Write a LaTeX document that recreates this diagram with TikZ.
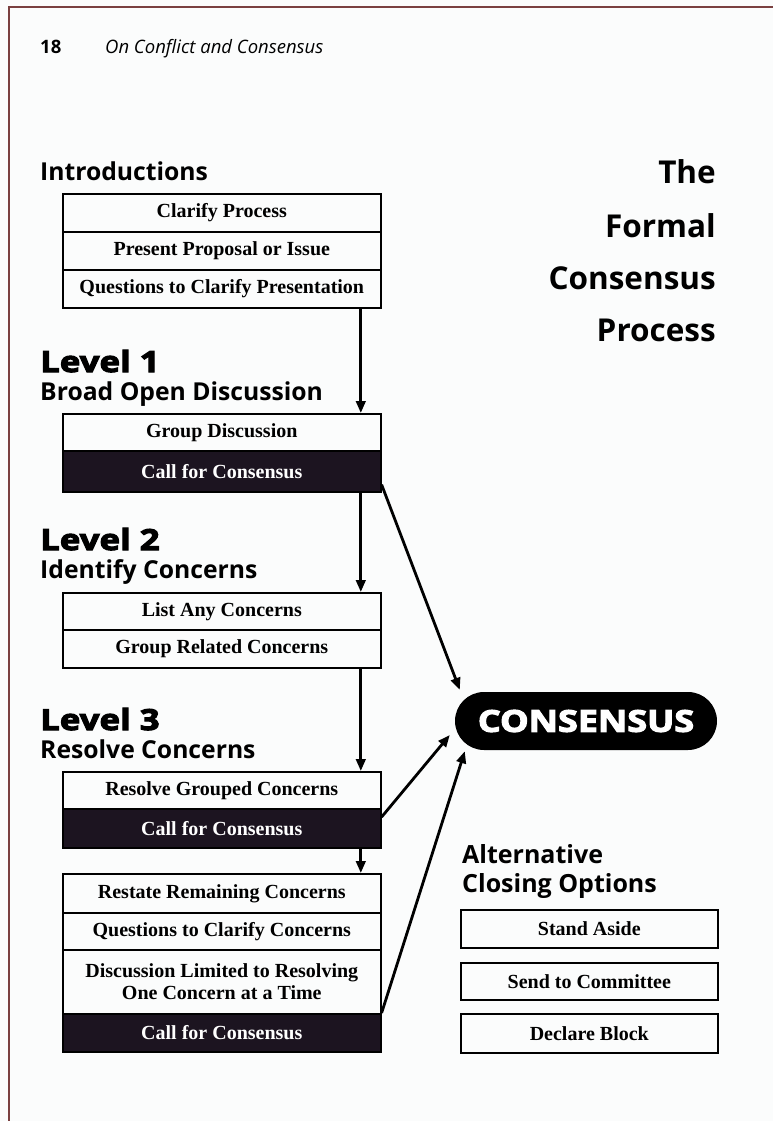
\documentclass[tikz,border=0pt]{standalone}
\usepackage{fontspec}
\setmainfont{Liberation Serif}
\newfontfamily\sansf{Open Sans}
\newfontfamily\heavyf{Open Sans}[FakeBold=3.8,FakeStretch=1.2]
\usetikzlibrary{arrows.meta,calc}
\definecolor{darkcell}{HTML}{1C1420}
\definecolor{bordercol}{HTML}{7A4040}
\definecolor{pagebg}{HTML}{FBFCFC}
\begin{document}
\begin{tikzpicture}[x=1pt,y=-1pt,
  cell/.style={draw=black,line width=1.6pt,minimum width=318pt,inner sep=0pt,anchor=north west,align=center,
    font=\fontsize{20}{21.5}\selectfont\bfseries},
  darkcell/.style={cell,fill=darkcell,text=white},
  altcell/.style={cell,minimum width=257pt},
  arr/.style={line width=2.8pt,-{Triangle[length=12pt,width=9.5pt]}},
  head/.style={anchor=base west,inner sep=0pt,font=\sansf\bfseries\fontsize{24.7}{26}\selectfont},
  level/.style={anchor=base west,inner sep=0pt,font=\heavyf\bfseries\fontsize{29}{31}\selectfont},
  ttl/.style={anchor=base east,inner sep=0pt,font=\sansf\bfseries\fontsize{31.5}{33}\selectfont},
  pill/.style={fill=black,rounded corners=29pt,minimum width=262pt,minimum height=58pt,inner sep=0pt,
    text=white,font=\heavyf\bfseries\fontsize{30}{32}\selectfont}
]
\useasboundingbox (0,0) rectangle (773,1121);
\fill[pagebg] (0,0) rectangle (773,1121);
\draw[bordercol,line width=1.5pt] (9,1121) -- (9,7) -- (773,7);

% header
\node[anchor=base west,inner sep=0pt,font=\sansf\bfseries\fontsize{18.5}{20}\selectfont] (pg) at (40,54) {18};
\node[anchor=base west,inner sep=0pt,font=\sansf\itshape\fontsize{18.5}{20}\selectfont] (run) at (105,54) {On Conflict and Consensus};

% title
\node[ttl] (t1) at (716,183) {The};
\node[ttl] (t2) at (716,237) {Formal};
\node[ttl] (t3) at (716,289) {Consensus};
\node[ttl] (t4) at (716,341) {Process};

% introductions
\node[head] (hintro) at (40,180) {Introductions};
\node[cell,minimum height=38pt] (i1) at (62,193) {Clarify Process};
\node[cell,minimum height=38pt] (i2) at (62,231) {Present Proposal or Issue};
\node[cell,minimum height=38pt] (i3) at (62,269) {Questions to Clarify Presentation};

% level 1
\node[level] (l1a) at (40,372) {Level 1};
\node[head] (l1b) at (40,400) {Broad Open Discussion};
\node[cell,minimum height=37pt] (g1) at (62,413) {Group Discussion};
\node[darkcell,minimum height=41pt] (c1) at (62,450) {Call for Consensus};

% level 2
\node[level] (l2a) at (40,550) {Level 2};
\node[head] (l2b) at (40,578) {Identify Concerns};
\node[cell,minimum height=37pt] (g2) at (62,592) {List Any Concerns};
\node[cell,minimum height=38pt] (h2) at (62,629) {Group Related Concerns};

% level 3
\node[level] (l3a) at (40,730) {Level 3};
\node[head] (l3b) at (40,758) {Resolve Concerns};
\node[cell,minimum height=37pt] (g3) at (62,771) {Resolve Grouped Concerns};
\node[darkcell,minimum height=39pt] (c3) at (62,808) {Call for Consensus};

\node[cell,minimum height=39pt] (r1) at (62,873) {Restate Remaining Concerns};
\node[cell,minimum height=37pt] (r2) at (62,912) {Questions to Clarify Concerns};
\node[cell,minimum height=64pt] (r3) at (62,949) {Discussion Limited to Resolving\\One Concern at a Time};
\node[darkcell,minimum height=38pt] (c4) at (62,1013) {Call for Consensus};

% consensus
\node[pill] (cons) at (586,721) {CONSENSUS};

% alternatives
\node[head,font=\sansf\bfseries\fontsize{25}{26}\selectfont] (alt1) at (462,863) {Alternative};
\node[head,font=\sansf\bfseries\fontsize{25}{26}\selectfont] (alt2) at (462,892) {Closing Options};
\node[altcell,minimum height=38pt] (a1) at (460,909) {Stand Aside};
\node[altcell,minimum height=37pt] (a2) at (460,962) {Send to Committee};
\node[altcell,minimum height=39pt] (a3) at (460,1013) {Declare Block};

% arrows
\draw[arr] ([xshift=139pt]i3.south) -- ([xshift=139pt]g1.north);
\draw[arr] ([xshift=139pt]c1.south) -- ([xshift=139pt]g2.north);
\draw[arr] ([xshift=139pt]h2.south) -- ([xshift=139pt]g3.north);
\draw[arr] ([xshift=139pt]c3.south) -- ([xshift=139pt]r1.north);
\draw[arr] ([yshift=8pt]c1.south east) -- ([xshift=5pt,yshift=2pt]cons.north west);
\draw[arr] ([yshift=-9pt]c3.north east) -- ([xshift=-5pt,yshift=-14pt]cons.west);
\draw[arr] (c4.north east) -- ([xshift=10pt,yshift=-1pt]cons.south west);
\end{tikzpicture}
\end{document}
